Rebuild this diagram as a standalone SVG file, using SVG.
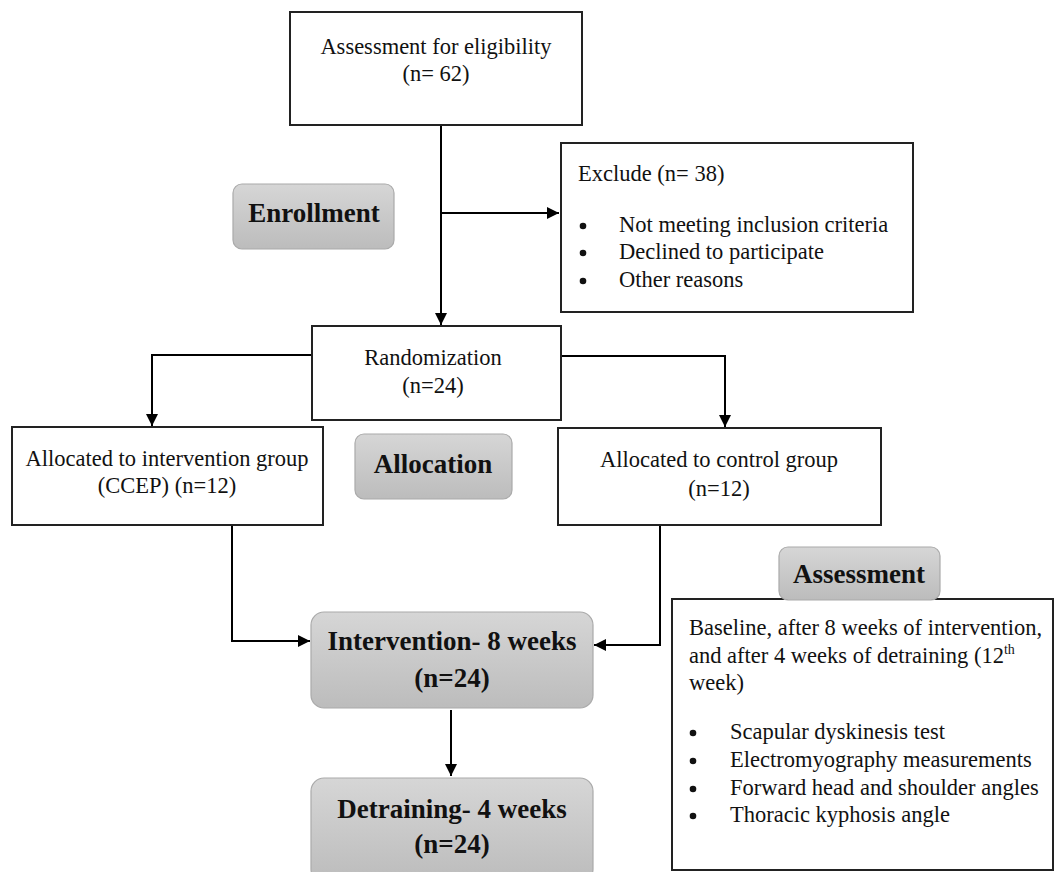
<svg xmlns="http://www.w3.org/2000/svg" width="1054" height="872" viewBox="0 0 1054 872">
<defs>
<linearGradient id="g" x1="0" y1="0" x2="0" y2="1">
<stop offset="0" stop-color="#d6d6d6"/>
<stop offset="1" stop-color="#bcbcbc"/>
</linearGradient>
<marker id="ah" viewBox="0 0 10 10" refX="10" refY="5" markerWidth="6" markerHeight="6" orient="auto" markerUnits="strokeWidth">
<path d="M0,0 L10,5 L0,10 z" fill="#000"/>
</marker>
</defs>
<style>
.box{fill:#fff;stroke:#222;stroke-width:2}
.gbox{fill:url(#g);stroke:#aaa;stroke-width:1.2}
.t{font-family:"Liberation Serif","Times New Roman",serif;font-size:22.5px;fill:#111}
.c{text-anchor:middle}
.b{font-family:"Liberation Serif","Times New Roman",serif;font-size:27px;font-weight:bold;fill:#111;text-anchor:middle}
.ln{fill:none;stroke:#000;stroke-width:2}
</style>
<rect width="1054" height="872" fill="#fff"/>

<g id="connectors">
<line class="ln" x1="441" y1="125" x2="441" y2="325" marker-end="url(#ah)"/>
<line class="ln" x1="441" y1="213" x2="559" y2="213" marker-end="url(#ah)"/>
<polyline class="ln" points="312,355 152,355 152,426" marker-end="url(#ah)"/>
<polyline class="ln" points="561,356 725,356 725,427" marker-end="url(#ah)"/>
<polyline class="ln" points="232,525 232,641 310,641" marker-end="url(#ah)"/>
<polyline class="ln" points="660,525 660,645 594,645" marker-end="url(#ah)"/>
<line class="ln" x1="451" y1="710" x2="451" y2="776" marker-end="url(#ah)"/>
</g>

<g id="eligibility">
<rect class="box" x="290" y="12" width="292" height="113"/>
<text class="t c" x="436" y="54">Assessment for eligibility</text>
<text class="t c" x="436" y="81">(n= 62)</text>
</g>

<g id="enrollment">
<rect class="gbox" x="233" y="184" width="161" height="65" rx="9"/>
<text class="b" x="314" y="222">Enrollment</text>
</g>

<g id="exclude">
<rect class="box" x="561" y="143" width="352" height="169"/>
<text class="t" x="578" y="181">Exclude (n= 38)</text>
<circle cx="583" cy="226" r="3.3" fill="#111"/>
<text class="t" x="619" y="232">Not meeting inclusion criteria</text>
<circle cx="583" cy="253" r="3.3" fill="#111"/>
<text class="t" x="619" y="259">Declined to participate</text>
<circle cx="583" cy="281" r="3.3" fill="#111"/>
<text class="t" x="619" y="287">Other reasons</text>
</g>

<g id="randomization">
<rect class="box" x="312" y="326" width="249" height="94"/>
<text class="t c" x="433" y="365">Randomization</text>
<text class="t c" x="433" y="393">(n=24)</text>
</g>

<g id="intervention-group">
<rect class="box" x="12" y="427" width="311" height="98"/>
<text class="t c" x="167" y="466">Allocated to intervention group</text>
<text class="t c" x="167" y="493">(CCEP) (n=12)</text>
</g>

<g id="allocation">
<rect class="gbox" x="355" y="434" width="157" height="65" rx="9"/>
<text class="b" x="433" y="473">Allocation</text>
</g>

<g id="control-group">
<rect class="box" x="558" y="428" width="323" height="97"/>
<text class="t c" x="719" y="467">Allocated to control group</text>
<text class="t c" x="719" y="496">(n=12)</text>
</g>

<g id="intervention">
<rect class="gbox" x="311" y="612" width="282" height="96" rx="13"/>
<text class="b" x="452" y="650">Intervention- 8 weeks</text>
<text class="b" x="452" y="687">(n=24)</text>
</g>

<g id="detraining">
<rect class="gbox" x="311" y="778" width="282" height="104" rx="13"/>
<text class="b" x="452" y="818">Detraining- 4 weeks</text>
<text class="b" x="452" y="853">(n=24)</text>
</g>

<g id="assessment-details">
<rect class="box" x="672" y="599" width="381" height="271"/>
<text class="t" x="689" y="635">Baseline, after 8 weeks of intervention,</text>
<text class="t" x="689" y="663">and after 4 weeks of detraining (12<tspan font-size="14" dy="-9">th</tspan></text>
<text class="t" x="689" y="690">week)</text>
<circle cx="693" cy="733" r="3.3" fill="#111"/>
<text class="t" x="730" y="739">Scapular dyskinesis test</text>
<circle cx="693" cy="761" r="3.3" fill="#111"/>
<text class="t" x="730" y="767">Electromyography measurements</text>
<circle cx="693" cy="789" r="3.3" fill="#111"/>
<text class="t" x="730" y="795">Forward head and shoulder angles</text>
<circle cx="693" cy="816" r="3.3" fill="#111"/>
<text class="t" x="730" y="822">Thoracic kyphosis angle</text>
</g>

<g id="assessment">
<rect class="gbox" x="779" y="547" width="161" height="53" rx="9"/>
<text class="b" x="859" y="583">Assessment</text>
</g>
</svg>
